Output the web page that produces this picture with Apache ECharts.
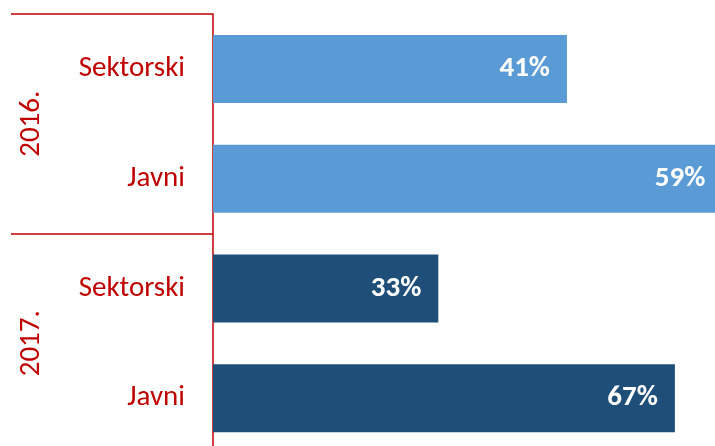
<!DOCTYPE html>
<html lang="hr">
<head>
    <meta charset="UTF-8">
    <script src="https://cdn.jsdelivr.net/npm/echarts@6/dist/echarts.min.js"></script>
    <style>
        html, body { margin: 0; padding: 0; background: #fff; }
        #chart { width: 715px; height: 446px; }
    </style>
    <title>Sektorski / Javni</title>
</head>
<body>
    <div id="chart"></div>
<script type="text/javascript">
    // podaci
    var years = ['2016.', '2017.'];
    var categories = ['Sektorski', 'Javni', 'Sektorski', 'Javni'];
    var yearOfBar = [0, 0, 1, 1];
    // duljine traka kako se vide na slici (skala nije ista za obje godine)
    var barValues = [41, 59, 26.1, 53.5];
    var barLabels = ['41%', '59%', '33%', '67%'];

    var yearColors = ['#5B9BD5', '#1F4E79'];
    var red = '#C00000';
    var font = 'Carlito, "Noto Sans", sans-serif';

    var chart = echarts.init(document.getElementById('chart'));

    var seriesData = barValues.map(function (v, i) {
        return {
            value: v,
            itemStyle: { color: yearColors[yearOfBar[i]] },
            label: { formatter: barLabels[i] }
        };
    });

    var option = {
        animation: false,
        grid: { left: 213, top: 14, width: 518, height: 439, outerBoundsMode: 'none' },
        xAxis: {
            type: 'value',
            min: 0,
            max: 60,
            show: false
        },
        yAxis: [
            {
                type: 'category',
                inverse: true,
                data: categories,
                position: 'left',
                axisLine: { show: true, lineStyle: { color: red, width: 1.5 } },
                axisTick: { show: false },
                axisLabel: { color: red, fontSize: 29, fontFamily: font, margin: 28 }
            },
            {
                type: 'category',
                inverse: true,
                data: years,
                position: 'left',
                axisLine: { show: false },
                axisTick: { show: true, length: 202, lineStyle: { color: red, width: 1.5 } },
                axisLabel: { color: red, fontSize: 29, fontFamily: font, rotate: 90, margin: 167 },
                splitLine: { show: false }
            }
        ],
        series: [
            {
                type: 'bar',
                yAxisIndex: 0,
                data: seriesData,
                barWidth: 68,
                clip: false,
                label: {
                    show: true,
                    position: 'insideRight',
                    distance: 17,
                    color: '#fff',
                    fontWeight: 'bold',
                    fontSize: 29,
                    fontFamily: font
                }
            }
        ]
    };
    chart.setOption(option);
</script>
</body>
</html>
